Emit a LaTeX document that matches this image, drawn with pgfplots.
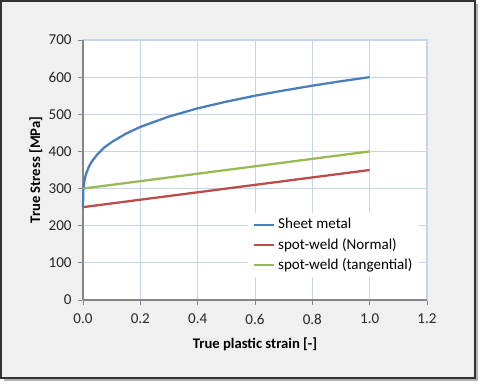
\documentclass[border=0pt]{standalone}
\usepackage{pgfplots}
\pgfplotsset{compat=1.18}
\usepackage{fontspec}
\setmainfont{Carlito}
\definecolor{bgc}{HTML}{F0F0F0}
\definecolor{gridc}{HTML}{C5D5EE}
\definecolor{axc}{HTML}{868686}
\definecolor{c1}{HTML}{4A7EBB}
\definecolor{c2}{HTML}{BE4B48}
\definecolor{c3}{HTML}{98B954}
\begin{document}
\begin{tikzpicture}[x=0.75pt,y=0.75pt]
\path[use as bounding box] (0,0) rectangle (482,385);
\fill[gray!60] (4,4) rectangle (478,381);
\fill[bgc] (1,7) rectangle (475,384);
\draw[black!80,line width=0.8pt] (1,7) rectangle (475,384);
\begin{axis}[
  at={(83*0.75pt,85*0.75pt)}, anchor=south west,
  scale only axis, width=258pt, height=195pt,
  xmin=0, xmax=1.2, ymin=0, ymax=700,
  xtick={0,0.2,...,1.2}, ytick={0,100,...,700},
  grid=major, major grid style={gridc, line width=0.6pt},
  axis background/.style={fill=white},
  axis line style={gridc, line width=0.8pt},
  tick align=outside, tick pos=left,
  major tick length=4pt,
  tick style={axc, line width=0.6pt},
  /pgf/number format/assume math mode=true,
  x tick label style={yshift=-3pt},
  y tick label style={xshift=-1pt},
  xticklabel style={/pgf/number format/.cd, fixed, fixed zerofill, precision=1, assume math mode=true},
  yticklabel style={/pgf/number format/.cd, fixed, assume math mode=true},
  ticklabel style={font=\fontsize{11.3}{13}\selectfont, text=black!85},
  xlabel={\textbf{True plastic strain [-]}},
  ylabel={\textbf{True Stress [MPa]}},
  label style={font=\fontsize{11}{13}\selectfont},
  xlabel style={yshift=-3pt},
  ylabel style={yshift=-2pt},
  legend style={draw=none, fill=white, at={(0.48,0.335)}, anchor=north west,
    font=\fontsize{11.3}{13}\selectfont, row sep=1.5pt},
  legend cell align=left,
  legend image code/.code={\draw[#1, line width=1.7pt] (0cm,0cm) -- (0.55cm,0cm);},
  clip=false,
]
\draw[axc, line width=0.8pt] (axis cs:0,0) -- (axis cs:1.2,0);
\draw[axc, line width=0.8pt] (axis cs:0,0) -- (axis cs:0,700);
\addplot[c1, line width=1.7pt] coordinates {
(0,250) (0.001,294) (0.005,321) (0.01,338) (0.02,358) (0.03,372) (0.05,392)
(0.075,411) (0.1,425) (0.15,448) (0.2,466) (0.3,494) (0.4,516) (0.5,534)
(0.6,550) (0.7,564) (0.8,577) (0.9,589) (1.0,600)};
\addlegendentry{Sheet metal}
\addplot[c2, line width=1.7pt] coordinates {(0,250) (1,350)};
\addlegendentry{spot-weld (Normal)}
\addplot[c3, line width=1.7pt] coordinates {(0,300) (1,400)};
\addlegendentry{spot-weld (tangential)}
\end{axis}
\end{tikzpicture}
\end{document}
